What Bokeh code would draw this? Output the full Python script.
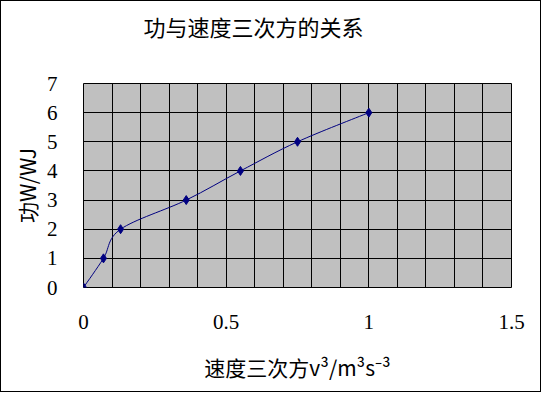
from bokeh.plotting import figure
from bokeh.models import FixedTicker, Range1d, Title
from bokeh.embed import file_html
from bokeh.resources import INLINE

# data
x_vals = [0, 0.07, 0.13, 0.36, 0.55, 0.75, 1.0]
y_vals = [0, 1, 2, 3, 4, 5, 6]
x_ticks = [0, 0.5, 1, 1.5]
x_tick_labels = ["0", "0.5", "1", "1.5"]
x_grid = [0, 0.1, 0.2, 0.3, 0.4, 0.5, 0.6, 0.7, 0.8, 0.9, 1.0, 1.1, 1.2, 1.3, 1.4, 1.5]
y_ticks = [0, 1, 2, 3, 4, 5, 6, 7]
title_text = "功与速度三次方的关系"
x_label = "速度三次方v³/m³s⁻³"
y_label = "功W/WJ"

FONT = "Liberation Serif, Noto Sans CJK SC"
CJK = "Noto Sans CJK SC, Liberation Serif"

p = figure(width=541, height=392, output_backend="svg", toolbar_location=None,
           x_range=Range1d(0, 1.5), y_range=Range1d(0, 7),
           min_border_left=82, min_border_right=31, min_border_top=82, min_border_bottom=106,
           styles={"border": "1px solid black"})

# spacer between the plot frame and the title
p.add_layout(Title(text=" ", text_font_size="1px", standoff=34), "above")

p.title.text = title_text
p.title.text_font = CJK
p.title.text_font_size = "22px"
p.title.text_font_style = "normal"
p.title.text_color = "black"
p.title.align = "left"
p.title.offset = 60
p.title.standoff = 10

p.background_fill_color = "#C0C0C0"
p.border_fill_color = "white"
p.outline_line_color = "black"
p.outline_line_width = 1

p.xaxis.ticker = FixedTicker(ticks=x_ticks)
p.xaxis.major_label_overrides = {t: l for t, l in zip(x_ticks, x_tick_labels)}
p.yaxis.ticker = FixedTicker(ticks=y_ticks)
p.xgrid.ticker = FixedTicker(ticks=x_grid)
p.ygrid.ticker = FixedTicker(ticks=y_ticks)
for g in (p.xgrid, p.ygrid):
    g.grid_line_color = "black"
    g.grid_line_width = 1
    g.grid_line_alpha = 1

for ax in (p.xaxis, p.yaxis):
    ax.axis_line_color = None
    ax.major_tick_line_color = None
    ax.minor_tick_line_color = None
    ax.major_label_text_font = FONT
    ax.major_label_text_font_size = "21px"
    ax.major_label_text_color = "black"
    ax.axis_label_text_font = CJK
    ax.axis_label_text_font_size = "21px"
    ax.axis_label_text_font_style = "normal"
    ax.axis_label_text_color = "black"

p.xaxis.axis_label = x_label
p.yaxis.axis_label = y_label
p.xaxis.major_label_standoff = 21
p.xaxis.axis_label_standoff = 20
p.yaxis.major_label_standoff = 20
p.yaxis.axis_label_standoff = 2

# smoothed line: Catmull-Rom style bezier segments built from data points
n = len(x_vals)
x0s, y0s, x1s, y1s, cx0, cy0, cx1, cy1 = [], [], [], [], [], [], [], []
for i in range(n - 1):
    pxm = x_vals[max(i - 1, 0)]; pym = y_vals[max(i - 1, 0)]
    pxa = x_vals[i]; pya = y_vals[i]
    pxb = x_vals[i + 1]; pyb = y_vals[i + 1]
    pxp = x_vals[min(i + 2, n - 1)]; pyp = y_vals[min(i + 2, n - 1)]
    x0s.append(pxa); y0s.append(pya); x1s.append(pxb); y1s.append(pyb)
    cx0.append(pxa + (pxb - pxm) / 6); cy0.append(pya + (pyb - pym) / 6)
    cx1.append(pxb - (pxp - pxa) / 6); cy1.append(pyb - (pyp - pya) / 6)

p.bezier(x0=x0s, y0=y0s, x1=x1s, y1=y1s, cx0=cx0, cy0=cy0, cx1=cx1, cy1=cy1,
         line_color="#000080", line_width=1)
p.scatter(x_vals, y_vals, marker="diamond", size=9, color="#000080")

open("out.html", "w").write(file_html(p, INLINE))
